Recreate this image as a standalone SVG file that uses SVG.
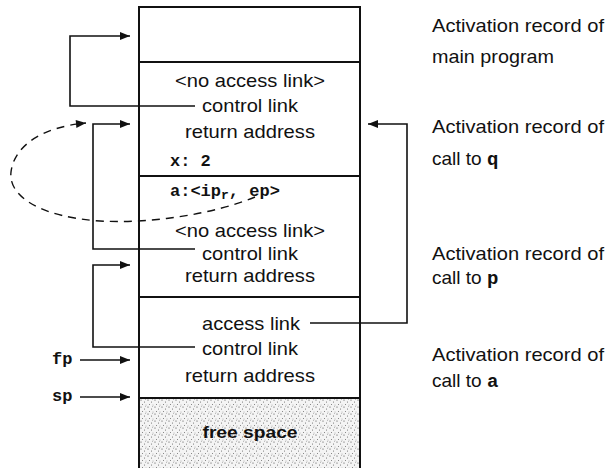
<svg xmlns="http://www.w3.org/2000/svg" width="607" height="468" viewBox="0 0 607 468">
<style>
.t{font-family:"Liberation Sans",Arial,sans-serif;font-size:19px;fill:#111;text-anchor:middle}
.l{font-family:"Liberation Sans",Arial,sans-serif;font-size:19px;fill:#111}
.m{font-family:"Liberation Mono","Courier New",monospace;font-size:17px;font-weight:bold;fill:#111}
.k{font-family:"Liberation Mono","Courier New",monospace;font-weight:bold}
.b{fill:none;stroke:#111;stroke-width:2}
.c{fill:none;stroke:#111;stroke-width:1.6}
.d{fill:none;stroke:#111;stroke-width:1.4;stroke-dasharray:8 6}
</style>
<defs>
<marker id="ah" viewBox="0 0 10 8" refX="10" refY="4" markerWidth="11" markerHeight="8" markerUnits="userSpaceOnUse" orient="auto">
<path d="M0,0 L10,4 L0,8 Z" fill="#111"/>
</marker>
<pattern id="dots" width="7" height="7" patternUnits="userSpaceOnUse">
<rect width="7" height="7" fill="#f4f4f4"/>
<circle cx="1" cy="1" r="0.6" fill="#444"/>
<circle cx="4.5" cy="3" r="0.5" fill="#555"/>
<circle cx="2.5" cy="5.5" r="0.5" fill="#666"/>
<circle cx="6" cy="6" r="0.4" fill="#555"/>
<circle cx="5.5" cy="0.5" r="0.4" fill="#777"/>
</pattern>
</defs>
<g id="main">
<rect x="139" y="7" width="221" height="55" class="b" fill="#fff"/>
<text class="l" x="432" y="32" textLength="172" lengthAdjust="spacingAndGlyphs">Activation record of</text>
<text class="l" x="432" y="63" textLength="122" lengthAdjust="spacingAndGlyphs">main program</text>
</g>
<g id="callq">
<rect x="139" y="62" width="221" height="114" class="b" fill="#fff"/>
<text class="t" x="250" y="87" textLength="150" lengthAdjust="spacingAndGlyphs">&lt;no access link&gt;</text>
<text class="t" x="250" y="112" textLength="96" lengthAdjust="spacingAndGlyphs">control link</text>
<text class="t" x="250" y="138" textLength="130" lengthAdjust="spacingAndGlyphs">return address</text>
<text class="m" x="170" y="166">x:  2</text>
<text class="l" x="432" y="133" textLength="172" lengthAdjust="spacingAndGlyphs">Activation record of</text>
<text class="l" x="432" y="165">call to <tspan class="k">q</tspan></text>
</g>
<g id="callp">
<rect x="139" y="176" width="221" height="121" class="b" fill="#fff"/>
<text class="m" x="170" y="196">a:&lt;ip<tspan dy="3" font-size="13">r</tspan><tspan dy="-3">, ep&gt;</tspan></text>
<text class="t" x="250" y="237" textLength="150" lengthAdjust="spacingAndGlyphs">&lt;no access link&gt;</text>
<text class="t" x="250" y="260" textLength="96" lengthAdjust="spacingAndGlyphs">control link</text>
<text class="t" x="250" y="282" textLength="130" lengthAdjust="spacingAndGlyphs">return address</text>
<text class="l" x="432" y="260" textLength="172" lengthAdjust="spacingAndGlyphs">Activation record of</text>
<text class="l" x="432" y="284">call to <tspan class="k">p</tspan></text>
</g>
<g id="calla">
<rect x="139" y="297" width="221" height="101" class="b" fill="#fff"/>
<text class="t" x="251" y="330" textLength="98" lengthAdjust="spacingAndGlyphs">access link</text>
<text class="t" x="250" y="355" textLength="96" lengthAdjust="spacingAndGlyphs">control link</text>
<text class="t" x="250" y="382" textLength="130" lengthAdjust="spacingAndGlyphs">return address</text>
<text class="l" x="432" y="361" textLength="172" lengthAdjust="spacingAndGlyphs">Activation record of</text>
<text class="l" x="432" y="387">call to <tspan class="k">a</tspan></text>
</g>
<g id="free">
<path d="M139,398 V468 M360,398 V468" class="b"/>
<rect x="140" y="399" width="219" height="69" fill="url(#dots)"/>
<text x="250" y="438" font-family="Liberation Sans,Arial,sans-serif" font-size="17" font-weight="bold" fill="#111" text-anchor="middle" textLength="95" lengthAdjust="spacingAndGlyphs">free space</text>
</g>
<g id="pointers">
<text class="m" x="52" y="364">fp</text>
<text class="m" x="52" y="401">sp</text>
</g>
<g id="connectors">
<path class="c" d="M195,106 H70 V36 H130" marker-end="url(#ah)"/>
<path class="c" d="M195,249 H93 V124 H130" marker-end="url(#ah)"/>
<path class="c" d="M195,347 H93 V265 H130" marker-end="url(#ah)"/>
<path class="c" d="M310,323 H407 V124 H368" marker-end="url(#ah)"/>
<path class="c" d="M80,360 H130" marker-end="url(#ah)"/>
<path class="c" d="M80,397 H130" marker-end="url(#ah)"/>
<path class="d" d="M255,197 C214,214 150,224 100,221 C40,217 8,196 11,172 C14,146 42,127 86,123" marker-end="url(#ah)"/>
</g>
</svg>
